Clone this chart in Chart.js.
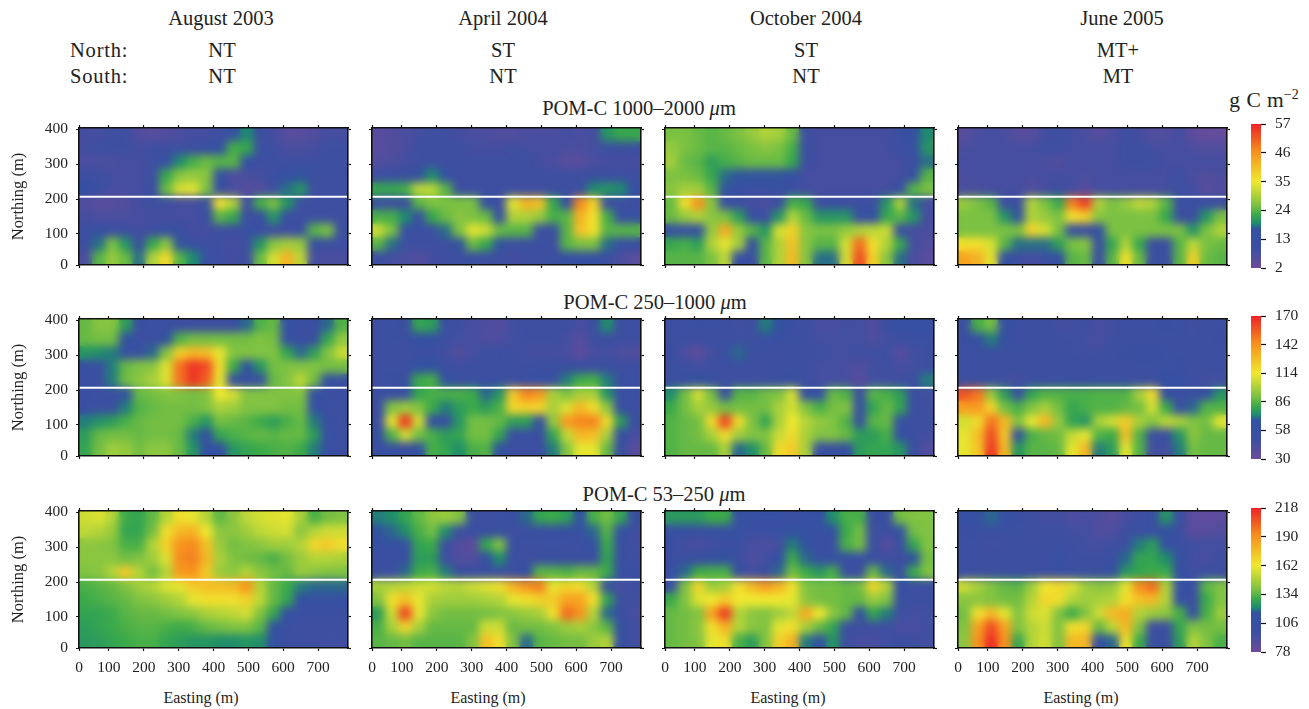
<!DOCTYPE html>
<html>
<head>
<meta charset="utf-8">
<title>POM-C maps</title>
<script src="https://cdn.jsdelivr.net/npm/chart.js@4"></script>
<style>
  html, body { margin: 0; padding: 0; background: #fff; }
  body { position: relative; width: 1309px; height: 709px; overflow: hidden; font-family: "Liberation Serif", serif; color: #222; }
  canvas { position: absolute; }
  .label { position: absolute; font-size: 20.5px; line-height: 24px; white-space: nowrap; transform: translate(-50%, -50%); }
  .label.left { transform: translate(0, -50%); letter-spacing: 0.8px; }
  .label.unit { font-size: 21.5px; word-spacing: 1px; }
  .label.axis { font-size: 16px; }
  sup { font-size: 14px; line-height: 0; }
</style>
</head>
<body>
<script>
// Column and row headers
const months = ['August 2003', 'April 2004', 'October 2004', 'June 2005'];
const northTreatments = ['NT', 'ST', 'ST', 'MT+'];
const southTreatments = ['NT', 'NT', 'NT', 'MT'];
const fractionTitles = ['POM-C 1000–2000 <i>μ</i>m', 'POM-C 250–1000 <i>μ</i>m', 'POM-C 53–250 <i>μ</i>m'];

// Axis ticks (the first tick of each axis sits on the map edge)
const eastingTicks = [14, 100, 200, 300, 400, 500, 600, 700];
const eastingLabels = ['0', '100', '200', '300', '400', '500', '600', '700'];
const northingTicks = [11, 100, 200, 300, 400];
const northingLabels = ['0', '100', '200', '300', '400'];

// Colour bar ticks, one list per fraction
const barTicks1000 = [2, 13, 24, 35, 46, 57];
const barTicks250 = [30, 58, 86, 114, 142, 170];
const barTicks53 = [78, 106, 134, 162, 190, 218];

// Centres of the grid cells (m)
const eastingCells = [33, 72, 111, 149, 188, 226, 265, 304, 342, 381, 419, 458, 497, 535, 574, 612, 651, 690, 728, 767];
const northingCells = [384, 345, 306, 267, 227, 188, 149, 109, 70, 31];
const borderNorthing = 207;

// g C m-2, rows go north to south
const pom1000Aug2003 = [
  [8,8,9,9,6,5,6,7,8,8,9,14,19,10,8,5,5,6,8,8],
  [8,9,9,9,8,9,9,9,10,13,15,23,22,10,9,7,7,8,9,9],
  [7,7,7,8,8,9,13,19,23,25,24,24,16,9,9,9,9,9,10,9],
  [10,9,8,8,8,9,22,27,28,27,15,7,7,8,10,15,17,10,9,9],
  [16,11,8,8,8,11,25,33,34,26,12,7,5,6,9,18,20,9,9,9],
  [6,5,5,6,8,9,9,8,8,10,36,30,9,23,26,20,9,9,9,9],
  [8,7,7,7,8,8,8,8,8,11,24,22,9,12,20,12,9,9,9,9],
  [9,14,10,9,8,9,13,12,8,8,9,9,13,10,9,9,12,24,26,9],
  [9,18,26,20,11,22,27,17,10,9,9,8,9,20,27,29,28,12,10,9],
  [7,24,28,25,18,30,37,24,19,14,9,8,9,25,33,42,31,8,7,7]
];
const pom1000Apr2004 = [
  [5,6,7,8,9,9,8,7,7,6,6,7,7,7,8,7,8,20,22,22],
  [5,6,7,9,9,9,9,8,8,8,9,8,8,8,7,7,8,10,10,10],
  [6,7,8,9,9,9,9,9,9,9,9,9,8,7,5,5,7,8,8,8],
  [9,10,11,17,19,15,9,9,9,9,9,9,9,9,9,9,11,10,9,9],
  [22,22,23,31,31,24,11,9,9,9,9,9,9,9,9,10,19,20,19,14],
  [10,9,10,24,26,26,26,26,14,10,34,42,40,22,14,47,38,10,9,9],
  [23,23,19,12,22,25,27,26,25,16,30,30,28,23,24,42,36,23,13,13],
  [32,26,13,10,10,18,26,34,32,25,24,24,10,10,24,40,36,24,24,24],
  [24,18,9,9,9,9,17,25,22,17,10,10,9,10,24,26,26,18,14,12],
  [10,8,7,6,8,9,9,10,9,9,8,9,9,10,14,15,15,10,7,5]
];
const pom1000Oct2004 = [
  [26,26,25,24,25,26,28,30,29,25,10,8,8,8,8,8,8,11,14,19],
  [28,26,25,24,24,25,26,27,26,23,10,8,8,8,8,8,8,10,14,20],
  [29,25,24,21,23,24,25,25,25,22,10,8,8,8,8,8,8,8,10,18],
  [26,26,25,22,18,17,17,17,17,15,8,8,8,8,8,8,8,8,16,24],
  [27,29,29,24,17,12,11,11,12,11,8,8,8,8,8,8,8,16,24,26],
  [25,36,46,27,12,9,8,7,9,23,22,9,12,9,9,9,20,30,18,8],
  [25,28,30,27,26,21,14,9,20,30,25,20,20,20,13,16,22,24,20,8],
  [15,14,16,28,43,28,24,20,33,38,27,26,26,28,30,31,32,12,8,7],
  [22,23,21,30,34,29,15,24,30,40,27,24,24,33,50,36,30,22,8,6],
  [24,24,24,26,31,14,11,24,30,41,27,18,18,33,53,38,27,18,7,5]
];
const pom1000Jun2005 = [
  [5,7,8,7,5,5,8,9,8,7,5,7,9,8,6,6,8,4,3,3],
  [7,8,8,8,8,8,9,9,8,8,8,8,9,9,8,8,8,7,6,6],
  [8,8,8,8,8,8,7,6,8,8,8,8,9,9,9,8,8,8,8,8],
  [7,8,8,8,8,7,8,8,8,7,8,8,8,8,8,8,9,7,6,7],
  [7,7,8,8,8,6,8,9,8,5,8,8,8,8,8,8,9,8,5,6],
  [28,26,24,10,9,30,26,22,48,54,30,26,28,31,30,24,10,10,10,10],
  [26,26,26,20,17,30,28,26,36,38,27,26,26,26,26,22,11,11,20,26],
  [26,26,26,26,26,38,33,26,15,10,16,26,26,26,26,26,26,20,26,30],
  [36,36,33,24,18,18,18,21,26,27,11,22,30,22,10,12,24,31,26,25],
  [44,42,34,16,9,8,9,16,24,25,10,24,36,25,10,10,24,38,25,24]
];
const pom250Aug2003 = [
  [88,93,93,78,52,50,50,50,50,50,50,52,70,85,88,62,52,52,70,85],
  [88,90,90,68,52,52,68,85,90,90,90,90,90,92,90,62,52,55,80,95],
  [76,74,72,60,58,70,92,122,130,128,112,92,92,92,92,80,70,78,92,106],
  [58,55,72,88,92,94,110,150,165,160,118,82,68,76,90,92,92,92,90,90],
  [55,52,72,90,94,100,110,150,165,155,112,60,50,55,88,92,104,90,62,55],
  [52,50,50,68,88,90,92,92,90,92,114,108,92,92,92,92,92,65,52,52],
  [55,52,54,72,85,88,90,90,90,92,100,98,92,92,92,90,90,62,52,50],
  [72,75,78,84,88,90,90,90,84,76,90,88,86,82,78,84,88,72,56,50],
  [78,88,90,90,88,90,90,88,72,66,80,84,86,88,86,88,88,78,60,50],
  [80,90,98,96,90,94,94,88,76,64,66,76,80,82,84,85,82,72,52,50]
];
const pom250Apr2004 = [
  [48,50,52,80,78,52,48,44,42,40,46,48,48,48,48,44,50,74,50,50],
  [50,52,52,62,60,50,46,44,42,42,46,48,48,48,46,38,48,52,48,48],
  [50,48,48,52,52,46,40,46,48,52,48,46,46,46,44,36,44,46,42,40],
  [50,50,50,66,68,50,48,50,50,50,48,48,50,50,52,52,50,50,50,50],
  [50,52,52,82,84,68,48,50,50,50,50,52,62,55,72,82,84,72,52,50],
  [52,52,62,80,84,84,84,82,70,76,125,145,140,100,92,100,100,75,52,50],
  [52,92,98,92,82,72,78,82,78,84,120,122,120,100,110,130,118,95,62,50],
  [52,112,165,108,66,55,76,90,90,88,78,78,60,96,140,145,146,118,78,50],
  [60,85,108,90,84,78,80,90,90,80,55,52,52,80,105,130,128,100,65,44],
  [55,58,52,66,84,80,74,84,85,68,50,50,50,72,92,112,112,88,55,38]
];
const pom250Oct2004 = [
  [50,50,52,50,50,46,48,72,68,52,48,44,44,46,46,40,50,62,62,58],
  [50,50,48,50,50,48,48,58,55,50,48,46,46,46,46,42,46,50,52,52],
  [54,42,36,46,56,70,52,48,48,48,48,48,46,46,48,48,48,38,46,48],
  [50,50,46,48,48,48,48,48,50,50,48,46,46,44,40,46,48,44,46,48],
  [50,52,68,50,48,48,48,48,50,54,48,46,46,44,38,46,46,48,50,72],
  [74,90,108,90,56,86,86,90,92,108,60,62,88,85,52,86,84,78,50,46],
  [82,90,100,96,90,90,90,90,100,108,92,84,90,92,54,80,88,80,52,46],
  [85,88,90,118,162,118,92,80,100,114,102,96,92,85,58,86,88,60,50,48],
  [85,88,90,100,118,98,92,92,106,118,100,92,92,88,78,78,84,62,52,46],
  [85,88,88,88,100,70,74,88,118,124,100,58,50,64,78,80,80,76,52,40]
];
const pom250Jun2005 = [
  [50,84,90,62,50,48,50,46,46,48,44,46,50,50,50,52,50,46,50,50],
  [52,62,72,60,50,50,50,48,48,46,44,48,50,50,50,50,50,48,50,52],
  [50,50,50,50,50,50,50,48,48,46,48,50,52,55,55,50,50,50,50,50],
  [50,50,50,50,50,48,50,50,50,50,50,50,50,50,50,50,55,48,48,50],
  [50,50,50,46,46,50,50,50,50,50,50,50,50,50,50,66,60,50,46,46],
  [158,150,96,78,54,80,85,85,84,84,85,85,85,100,118,56,50,50,64,76],
  [138,140,120,90,84,92,100,90,80,84,85,85,88,90,108,82,58,70,85,85],
  [108,118,150,130,92,112,130,96,80,76,100,108,124,100,92,104,100,92,90,112],
  [112,128,160,125,66,84,88,90,105,112,85,82,128,85,55,52,76,94,88,88],
  [112,125,165,130,76,86,86,88,112,130,72,78,112,85,46,46,72,90,88,88]
];
const pom53Aug2003 = [
  [155,158,150,130,128,135,150,165,160,150,135,142,152,156,158,160,148,132,138,140],
  [152,150,145,128,128,138,165,178,180,162,142,142,146,152,155,156,142,150,155,155],
  [142,142,140,132,132,150,170,190,192,175,145,138,140,142,146,146,150,168,172,165],
  [142,142,142,138,140,146,158,192,195,178,148,140,138,136,132,138,145,150,150,148],
  [140,142,150,172,150,138,150,188,190,172,145,142,150,142,138,136,145,142,140,140],
  [132,134,136,140,146,150,158,160,172,176,176,178,190,150,136,130,120,118,118,118],
  [130,132,134,136,140,142,146,150,160,165,165,165,170,152,136,128,112,108,108,108],
  [128,128,130,134,136,136,138,140,142,148,150,152,156,140,128,112,100,100,100,100],
  [126,128,130,132,134,134,132,130,132,136,138,140,140,134,116,100,96,96,96,96],
  [125,126,128,130,132,132,128,126,124,124,122,122,124,122,110,98,96,96,95,95]
];
const pom53Apr2004 = [
  [120,122,128,135,142,145,140,100,96,98,100,118,128,130,126,115,132,138,128,100],
  [116,118,122,132,138,122,100,100,100,100,98,100,102,104,104,108,118,134,114,96],
  [112,110,106,128,130,100,88,84,128,140,100,98,98,98,98,98,110,130,108,94],
  [100,100,104,126,126,98,88,88,112,122,100,96,100,102,100,100,102,128,104,96],
  [100,100,118,130,132,120,104,104,100,100,100,112,134,134,132,136,136,130,108,100],
  [148,150,152,155,156,152,150,155,158,165,180,190,195,160,168,166,150,106,92,96],
  [140,165,175,160,148,146,146,146,148,150,160,165,170,172,185,185,165,128,96,94],
  [126,155,210,160,142,138,138,138,138,140,142,145,148,165,200,190,150,118,100,92],
  [132,148,168,148,136,136,136,136,155,155,136,138,138,140,145,148,142,134,112,94],
  [134,136,138,134,134,134,134,140,175,165,140,118,134,136,138,138,145,150,110,94]
];
const pom53Oct2004 = [
  [125,125,125,130,130,108,106,108,108,100,108,112,122,132,132,100,102,138,140,140],
  [106,104,102,108,110,106,102,104,106,112,110,106,112,130,138,100,96,116,138,140],
  [104,94,92,94,102,100,92,90,94,120,116,104,106,132,138,100,86,98,128,140],
  [100,100,104,114,116,98,90,94,114,130,118,106,108,108,106,100,96,96,116,138],
  [106,118,130,132,132,108,94,100,118,138,130,124,132,100,100,136,118,100,130,140],
  [100,140,168,145,148,165,178,188,180,165,140,138,138,136,138,168,150,110,98,98],
  [130,140,158,162,172,162,162,162,162,160,142,138,138,136,136,145,140,105,98,98],
  [136,138,140,185,212,150,142,140,146,152,182,162,142,135,112,128,120,96,94,94],
  [136,138,142,165,180,150,142,140,160,165,148,136,128,100,96,96,96,92,92,94],
  [136,138,140,160,165,132,126,140,170,180,120,112,124,96,92,92,95,100,96,94]
];
const pom53Jun2005 = [
  [108,112,118,108,100,96,94,94,90,92,90,86,92,98,100,124,98,84,84,84],
  [100,100,102,100,98,96,96,96,94,94,88,90,96,100,102,116,100,84,86,88],
  [98,98,94,96,96,96,96,100,96,94,94,96,100,120,126,112,98,96,94,94],
  [98,98,98,98,98,98,98,106,98,96,96,102,118,128,128,122,108,94,92,96],
  [98,98,98,98,98,98,98,106,100,98,100,110,124,128,130,130,112,96,96,102],
  [155,148,140,136,134,146,162,168,158,146,142,144,160,192,200,150,108,104,135,140],
  [142,142,140,138,138,150,168,165,150,146,148,150,165,175,178,150,110,100,130,140],
  [138,165,178,160,140,155,158,140,130,140,155,178,182,150,145,142,132,106,132,145],
  [140,185,208,185,140,150,155,140,165,168,136,152,178,140,98,98,128,140,138,138],
  [142,190,215,190,128,150,156,140,178,178,110,118,165,130,98,98,126,150,140,132]
];

const fractionMaps = [
  [pom1000Aug2003, pom1000Apr2004, pom1000Oct2004, pom1000Jun2005],
  [pom250Aug2003, pom250Apr2004, pom250Oct2004, pom250Jun2005],
  [pom53Aug2003, pom53Apr2004, pom53Oct2004, pom53Jun2005]
];
const fractionBarTicks = [barTicks1000, barTicks250, barTicks53];

// Layout in page pixels
const plotLefts = [79, 372, 665, 958];
const plotTops = [128, 319, 511];
const plotWidth = 269;
const plotHeight = 137;
const barTops = [124, 316, 508];
const barBottoms = [268, 459, 652];
const barLeft = 1251;
const barWidth = 10;

const fontFamily = '"Liberation Serif", serif';
const inkColor = '#222';

// Shared colour ramp, position along the range and colour
const rampStops = [0, 0.13, 0.27, 0.31, 0.37, 0.44, 0.6, 0.8, 1];
const rampColors = ['#6c4b9b', '#3d4fa1', '#3350a2', '#1f8c6e', '#3aaa4a', '#7fc242', '#f0e82f', '#f7941e', '#ec2227'];

function hexToRgb(hex) {
  return [1, 3, 5].map((i) => parseInt(hex.slice(i, i + 2), 16));
}

function rampColor(value, low, high) {
  const t = Math.min(1, Math.max(0, (value - low) / (high - low)));
  let i = 0;
  while (i < rampStops.length - 2 && t > rampStops[i + 1]) i++;
  const f = (t - rampStops[i]) / (rampStops[i + 1] - rampStops[i]);
  const a = hexToRgb(rampColors[i]);
  const b = hexToRgb(rampColors[i + 1]);
  const rgb = a.map((c, k) => Math.round(c + (b[k] - c) * f));
  return `rgb(${rgb.join(',')})`;
}

// The maps in the figure are smoothed, so soften the cells once they are drawn
const smoothCells = {
  id: 'smoothCells',
  afterDatasetDraw(chart, args) {
    if (args.index !== 0) return;
    const { ctx, chartArea: a, currentDevicePixelRatio: r } = chart;
    ctx.save();
    ctx.beginPath();
    ctx.rect(a.left, a.top, a.width, a.height);
    ctx.clip();
    ctx.filter = 'blur(4.5px)';
    ctx.drawImage(chart.canvas, a.left * r, a.top * r, a.width * r, a.height * r, a.left, a.top, a.width, a.height);
    ctx.restore();
  },
};

function addCanvas(left, top, width, height) {
  const canvas = document.createElement('canvas');
  canvas.width = width;
  canvas.height = height;
  canvas.style.left = left + 'px';
  canvas.style.top = top + 'px';
  canvas.style.width = width + 'px';
  canvas.style.height = height + 'px';
  document.body.appendChild(canvas);
  return canvas;
}

function addLabel(html, x, y, extraClass) {
  const div = document.createElement('div');
  div.className = 'label' + (extraClass ? ' ' + extraClass : '');
  div.style.left = x + 'px';
  div.style.top = y + 'px';
  div.innerHTML = html;
  document.body.appendChild(div);
}

function tickOptions(values, labels, size, showLabels) {
  return {
    type: 'linear',
    afterBuildTicks: (scale) => {
      scale.ticks = values.map((value) => ({ value }));
    },
    afterFit: (scale) => {
      if (scale.isHorizontal()) scale.height = size;
      else scale.width = size;
      // keep the plot area fixed, labels may overhang
      scale.paddingTop = scale.paddingBottom = scale.paddingLeft = scale.paddingRight = 0;
    },
    border: { display: true, color: '#111', width: 1.6, z: 1 },
    grid: { drawOnChartArea: false, drawTicks: true, tickLength: 3, tickColor: '#111', tickWidth: 1.2 },
    ticks: {
      display: showLabels,
      autoSkip: false,
      maxRotation: 0,
      padding: 8,
      color: inkColor,
      font: { family: fontFamily, size: 15.5 },
      callback: (value) => labels[values.indexOf(value)],
    },
  };
}

function drawMap(row, col) {
  const grid = fractionMaps[row][col];
  const barTicks = fractionBarTicks[row];
  const low = barTicks[0];
  const high = barTicks[barTicks.length - 1];

  const cells = [];
  grid.forEach((values, j) => {
    values.forEach((v, i) => {
      cells.push({ x: eastingCells[i], y: northingCells[j], v });
    });
  });

  // Margins around the plot area, only the outer panels carry labels
  const marginLeft = col === 0 ? 70 : 8;
  const marginBottom = row === 2 ? 40 : 8;
  const margin = 8;
  const canvas = addCanvas(
    plotLefts[col] - marginLeft,
    plotTops[row] - margin,
    plotWidth + marginLeft + margin,
    plotHeight + margin + marginBottom
  );

  const x = tickOptions(eastingTicks, eastingLabels, marginBottom, row === 2);
  x.position = 'bottom';
  x.min = 14;
  x.max = 786;

  const y = tickOptions(northingTicks, northingLabels, marginLeft, col === 0);
  y.position = 'left';
  y.min = 11;
  y.max = 404;
  y.title = {
    display: col === 0,
    text: 'Northing (m)',
    color: inkColor,
    font: { family: fontFamily, size: 16.5 },
    padding: 0,
  };

  const xTop = tickOptions(eastingTicks, eastingLabels, margin, false);
  xTop.axis = 'x';
  xTop.position = 'top';
  xTop.min = 14;
  xTop.max = 786;

  const yRight = tickOptions(northingTicks, northingLabels, margin, false);
  yRight.axis = 'y';
  yRight.position = 'right';
  yRight.min = 11;
  yRight.max = 404;

  new Chart(canvas, {
    type: 'scatter',
    data: {
      datasets: [
        {
          data: cells,
          order: 2,
          clip: 0,
          pointStyle: 'rect',
          pointRadius: 10.2,
          pointBorderWidth: 0,
          backgroundColor: (ctx) => (ctx.raw ? rampColor(ctx.raw.v, low, high) : '#000'),
        },
        {
          type: 'line',
          data: [{ x: 14, y: borderNorthing }, { x: 786, y: borderNorthing }],
          order: 1,
          clip: 0,
          borderColor: '#fff',
          borderWidth: 2,
          pointRadius: 0,
        },
      ],
    },
    options: {
      responsive: false,
      animation: false,
      events: [],
      layout: { autoPadding: false },
      plugins: { legend: { display: false }, title: { display: false }, tooltip: { enabled: false } },
      scales: { x, y, xTop, yRight },
    },
    plugins: [smoothCells],
  });
}

function drawColorBar(row) {
  const barTicks = fractionBarTicks[row];
  const low = barTicks[0];
  const high = barTicks[barTicks.length - 1];
  const pad = 8;
  const labelRoom = 48;
  const height = barBottoms[row] - barTops[row];
  const canvas = addCanvas(barLeft, barTops[row] - pad, barWidth + labelRoom, height + pad * 2);

  new Chart(canvas, {
    type: 'bar',
    data: {
      labels: [''],
      datasets: [
        {
          data: [[low, high]],
          barPercentage: 1,
          categoryPercentage: 1,
          backgroundColor: (ctx) => {
            const area = ctx.chart.chartArea;
            if (!area) return rampColors[0];
            const gradient = ctx.chart.ctx.createLinearGradient(0, area.bottom, 0, area.top);
            rampStops.forEach((stop, i) => gradient.addColorStop(stop, rampColors[i]));
            return gradient;
          },
        },
      ],
    },
    options: {
      responsive: false,
      animation: false,
      events: [],
      layout: { autoPadding: false, padding: { top: pad, bottom: pad } },
      plugins: { legend: { display: false }, title: { display: false }, tooltip: { enabled: false } },
      scales: {
        x: { display: false },
        y: {
          position: 'right',
          min: low,
          max: high,
          afterBuildTicks: (scale) => {
            scale.ticks = barTicks.map((value) => ({ value }));
          },
          afterFit: (scale) => {
            scale.width = labelRoom;
            scale.paddingTop = scale.paddingBottom = 0;
          },
          border: { display: false },
          grid: { drawOnChartArea: false, drawTicks: true, tickLength: 5, tickColor: '#111', tickWidth: 1.2 },
          ticks: { autoSkip: false, padding: 9, color: inkColor, font: { family: fontFamily, size: 15.5 } },
        },
      },
    },
  });
}

// Headers
const monthCentres = [221, 503, 806, 1122];
const treatmentCentres = [222, 503, 806, 1118];
months.forEach((text, i) => addLabel(text, monthCentres[i], 18));
addLabel('North:', 70, 50, 'left');
addLabel('South:', 70, 76, 'left');
northTreatments.forEach((text, i) => addLabel(text, treatmentCentres[i], 50));
southTreatments.forEach((text, i) => addLabel(text, treatmentCentres[i], 76));

const titleCentres = [639, 655, 664];
const titleRows = [108, 302, 494];
fractionTitles.forEach((html, i) => addLabel(html, titleCentres[i], titleRows[i]));
addLabel('g C m<sup>−2</sup>', 1264, 100, 'unit');

const eastingTitleCentres = [201, 488, 788, 1081];
eastingTitleCentres.forEach((x) => addLabel('Easting (m)', x, 698, 'axis'));

// Panels
fractionMaps.forEach((maps, row) => {
  maps.forEach((grid, col) => drawMap(row, col));
  drawColorBar(row);
});
</script>
</body>
</html>
